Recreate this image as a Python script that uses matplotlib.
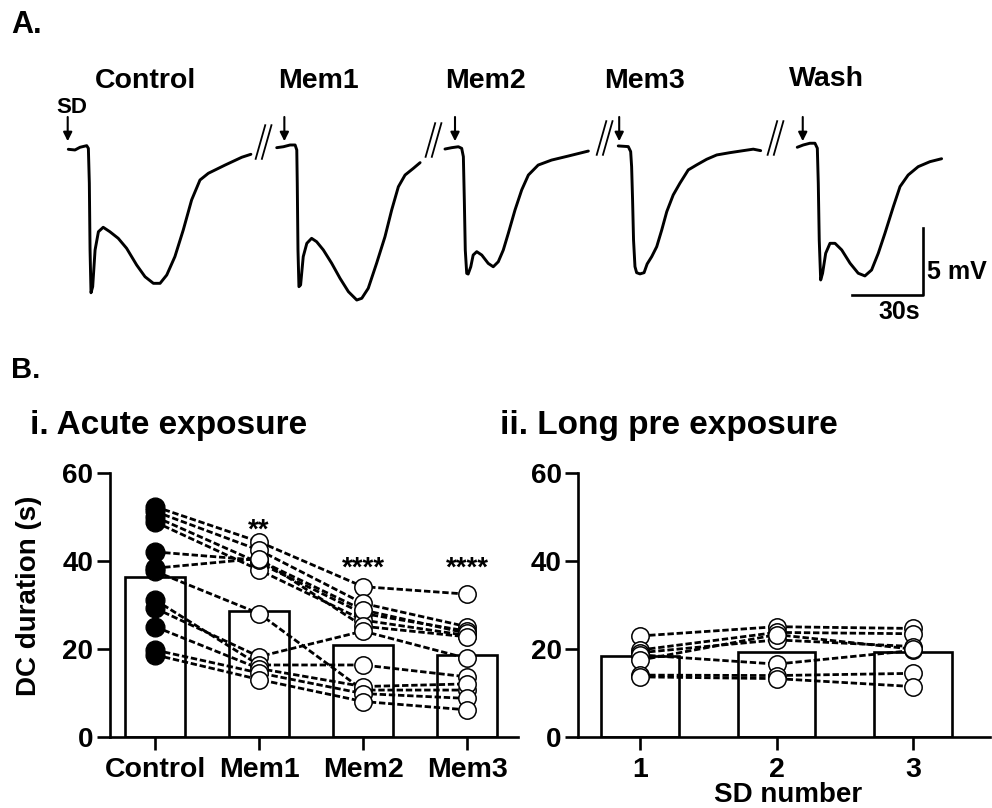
import matplotlib
matplotlib.use("Agg")
import matplotlib.pyplot as plt

W, H, DPI = 992, 808, 100

plt.rcParams["font.family"] = ["Liberation Sans", "DejaVu Sans"]
plt.rcParams["font.weight"] = "bold"

# ---- A. example DC traces: time from SD onset (s), potential (mV)
trace_names = ["Control", "Mem1", "Mem2", "Mem3", "Wash"]
control_t = [0, 2.8, 4.9, 7.7, 8.4, 8.8, 9.1, 9.5, 10.2, 11.2, 12.6, 14.6, 17.4, 20.9,
             24.4, 28.6, 32.1, 35.6, 38.4, 41.2, 44.6, 48.1, 51.6, 55.1, 58.6, 65.6, 72.6, 76.4]
control_mv = [0, -0.05, 0.15, 0.27, 0.07, -2.52, -7.48, -10.65, -10.2, -7.48, -6.12, -5.79, -6.12,
              -6.61, -7.35, -8.59, -9.46, -9.95, -9.95, -9.33, -7.97, -5.99, -3.76, -2.28, -1.78,
              -1.17, -0.59, -0.37]
mem1_t = [0, 2.8, 5.6, 7.7, 8.4, 8.6, 8.9, 9.3, 10.0, 11.1, 12.6, 14.6, 16.7, 19.5, 23.0, 26.5,
          30.0, 33.5, 35.6, 38.3, 41.8, 45.3, 48.1, 50.9, 53.7, 57.2, 60.0]
mem1_mv = [0, 0.07, 0.2, 0.2, -0.17, -2.64, -7.59, -10.32, -10.19, -8.09, -7.10, -6.73, -6.98,
           -7.59, -8.58, -9.70, -10.69, -11.31, -11.18, -10.44, -8.58, -6.61, -4.63, -2.90,
           -2.03, -1.53, -1.11]
mem2_t = [0, 2.8, 5.6, 7.0, 7.7, 8.1, 8.5, 9.1, 9.7, 10.8, 11.8, 13.3, 15.4, 18.1, 20.2, 22.3,
          24.4, 26.5, 29.3, 32.1, 34.9, 39.0, 44.6, 51.6, 60.0]
mem2_mv = [0, 0.10, 0.17, 0.05, -0.57, -3.79, -7.50, -9.23, -9.28, -8.74, -7.87, -7.62, -7.87,
           -8.49, -8.74, -8.37, -7.50, -6.26, -4.53, -3.04, -1.93, -1.19, -0.82, -0.52, -0.15]
mem3_t = [0, 4.2, 5.2, 5.6, 6.0, 6.4, 7.0, 7.7, 9.1, 10.8, 12.1, 14.0, 16.1, 18.2, 20.3, 23.0,
          25.8, 29.3, 32.8, 37.0, 41.2, 46.7, 52.3, 56.5, 59.6]
mem3_mv = [0, -0.05, -0.42, -1.54, -4.01, -6.98, -8.96, -9.41, -9.50, -9.41, -8.76, -8.22, -7.48,
           -6.24, -4.88, -3.64, -2.77, -1.78, -1.41, -0.99, -0.67, -0.50, -0.35, -0.24, -0.35]
wash_t = [0, 2.5, 5.3, 7.4, 8.4, 8.8, 9.2, 9.8, 10.6, 11.9, 13.7, 15.8, 18.6, 22.1, 25.5, 28.3,
          31.1, 33.9, 36.7, 40.2, 43.0, 46.4, 50.6, 55.5, 60.4]
wash_mv = [0, 0.17, 0.30, 0.30, -0.07, -2.67, -6.88, -9.85, -9.35, -7.87, -7.13, -7.13, -7.62,
           -8.61, -9.35, -9.55, -9.11, -7.87, -6.38, -4.41, -2.92, -2.06, -1.44, -1.07, -0.85]

# ---- B(i). acute exposure, DC duration (s), one entry per slice
acute_groups = ["Control", "Mem1", "Mem2", "Mem3"]
acute_control = [52.3, 51.2, 50.0, 48.8, 42.0, 38.3, 37.6, 29.2, 31.1, 25.0, 19.7, 18.6]
acute_mem1 = [44.3, 42.4, 39.5, 37.9, 40.1, 40.5, 28.0, 18.2, 16.3, 15.5, 14.5, 13.0]
acute_mem2 = [34.1, 30.3, 28.0, 26.5, 28.8, 25.1, 10.6, 24.0, 16.3, 11.4, 9.8, 8.0]
acute_mem3 = [32.4, 25.0, 24.0, 23.0, 23.5, 22.7, 10.6, 17.8, 13.6, 12.0, 8.7, 6.1]
acute_means = [36.2, 28.6, 20.8, 18.6]
acute_stars = ["", "**", "****", "****"]

# ---- B(ii). long pre exposure, DC duration (s) for SD 1-3
sd_number = [1, 2, 3]
pre_sd1 = [22.9, 19.7, 19.1, 18.6, 17.4, 14.0, 13.6]
pre_sd2 = [25.0, 23.7, 22.0, 16.5, 23.2, 13.9, 13.2]
pre_sd3 = [24.6, 23.4, 20.5, 19.6, 19.9, 14.4, 11.4]
pre_means = [18.3, 19.2, 19.2]


def fig_px(x, y):
    return x / W, 1 - y / H


fig = plt.figure(figsize=(W / DPI, H / DPI), dpi=DPI)

# ---------------- panel A ----------------
px_per_s, px_per_mv = 2.39, 13.47
x0_px, y0_px, a_h = 68.3, 149.3, 340
ax_a = fig.add_axes([0, 1 - a_h / H, 1, a_h / H])
ax_a.set_xlim(-x0_px / px_per_s, (W - x0_px) / px_per_s)
ax_a.set_ylim((y0_px - a_h) / px_per_mv, y0_px / px_per_mv)
ax_a.axis("off")

traces = [(control_t, control_mv), (mem1_t, mem1_mv), (mem2_t, mem2_mv),
          (mem3_t, mem3_mv), (wash_t, wash_mv)]
trace_start = [0, 87.2, 157.6, 230.1, 305.0]
trace_shift = [0, 0.12, 0.02, 0.25, 0.15]
arrow_at = [-0.25, 3.2, 4.2, 0.4, 2.3]
for (t, v), t0, v0, da in zip(traces, trace_start, trace_shift, arrow_at):
    ax_a.plot([ti + t0 for ti in t], [vi + v0 for vi in v], color="black", lw=2.1,
              solid_joinstyle="round", solid_capstyle="round")
    ax_a.annotate("", xy=(t0 + da, 0.6), xytext=(t0 + da, 2.4),
                  arrowprops=dict(arrowstyle="-|>", color="black", lw=1.5,
                                  mutation_scale=13, shrinkA=0, shrinkB=0))

# break marks between recordings
for tc, vc in [(81.7, 0.54), (152.8, 0.69), (224.4, 0.84), (295.9, 0.84)]:
    for off in (-1.3, 1.3):
        ax_a.plot([tc + off - 2.0, tc + off + 2.0], [vc - 1.25, vc + 1.25],
                  color="black", lw=1.3)

# scale bar 30 s / 5 mV
ax_a.plot([327.7, 357.7, 357.7], [-10.82, -10.82, -5.82], color="black", lw=1.9)
fig.text(*fig_px(927, 272), "5 mV", fontsize=18, ha="left", va="center")
fig.text(*fig_px(899, 312), "30s", fontsize=18, ha="center", va="center")

label_px = [(95, 88), (278, 88), (445, 88), (604, 88), (789, 86)]
for name, (lx, ly) in zip(trace_names, label_px):
    fig.text(*fig_px(lx, ly), name, fontsize=20.5, ha="left", va="baseline")
fig.text(*fig_px(56, 113), "SD", fontsize=16, ha="left", va="baseline")
fig.text(*fig_px(11, 33), "A.", fontsize=22, ha="left", va="baseline")

# ---------------- panel B ----------------
fig.text(*fig_px(11, 378), "B.", fontsize=21, ha="left", va="baseline")
fig.text(*fig_px(30, 434), "i. Acute exposure", fontsize=24, ha="left", va="baseline")
fig.text(*fig_px(500, 434), "ii. Long pre exposure", fontsize=24, ha="left", va="baseline")
fig.text(*fig_px(29, 596), "DC duration (s)", fontsize=20, rotation=90,
         ha="center", va="center")
fig.text(*fig_px(788, 795), "SD number", fontsize=20, ha="center", va="center")

axis_lw = 1.9
dash = (2.3, 1.0)


def style_axis(ax):
    for side in ("top", "right"):
        ax.spines[side].set_visible(False)
    for side in ("left", "bottom"):
        ax.spines[side].set_linewidth(axis_lw)
    ax.set_ylim(0, 60)
    ax.set_yticks([0, 20, 40, 60])
    ax.tick_params(axis="both", length=9.5, width=axis_lw, labelsize=20)
    ax.tick_params(axis="y", pad=2.5)
    ax.tick_params(axis="x", pad=5, labelsize=20.5)


y_bot = 1 - 736.7 / H
y_h = 264 / H

ax1 = fig.add_axes([110 / W, y_bot, (518 - 110) / W, y_h])
style_axis(ax1)
ax1.set_xlim(-0.433, 3.49)
xs = list(range(len(acute_groups)))
ax1.bar(xs, acute_means, width=0.58, color="white", edgecolor="black", lw=axis_lw, zorder=1)
for row in zip(acute_control, acute_mem1, acute_mem2, acute_mem3):
    ax1.plot(xs, row, color="black", lw=2.0, ls=(0, dash), zorder=2)
ax1.plot([0] * len(acute_control), acute_control, "o", ms=13.5, mfc="black", mec="black",
         zorder=3, clip_on=False)
for k, vals in zip(xs[1:], [acute_mem1, acute_mem2, acute_mem3]):
    ax1.plot([k] * len(vals), vals, "o", ms=12.5, mfc="white", mec="black", mew=1.1,
             zorder=3, clip_on=False)
star_base = [0, 45.2, 36.6, 36.6]
for k, s, yb in zip(xs, acute_stars, star_base):
    if s:
        ax1.text(k, yb, s, fontsize=20, ha="center", va="baseline")
ax1.set_xticks(xs)
ax1.set_xticklabels(acute_groups)

ax2 = fig.add_axes([578.3 / W, y_bot, (990 - 578.3) / W, y_h])
style_axis(ax2)
ax2.set_xlim(0.548, 3.564)
ax2.bar(sd_number, pre_means, width=0.57, color="white", edgecolor="black", lw=axis_lw, zorder=1)
for row in zip(pre_sd1, pre_sd2, pre_sd3):
    ax2.plot(sd_number, row, color="black", lw=2.0, ls=(0, dash), zorder=2)
for k, vals in zip(sd_number, [pre_sd1, pre_sd2, pre_sd3]):
    ax2.plot([k] * len(vals), vals, "o", ms=12.5, mfc="white", mec="black", mew=1.1,
             zorder=3, clip_on=False)
ax2.set_xticks(sd_number)

fig.savefig("out.png", dpi=DPI)
